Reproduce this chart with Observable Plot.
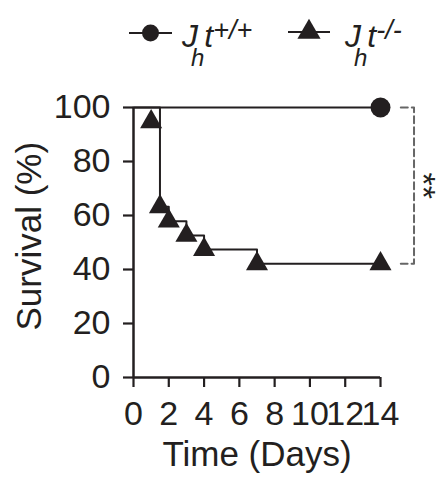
<!DOCTYPE html>
<html><head><meta charset="utf-8">
<script src="https://cdn.jsdelivr.net/npm/d3@7"></script>
<script src="https://cdn.jsdelivr.net/npm/@observablehq/plot@0.6"></script>
<style>
html,body{margin:0;padding:0;background:#fff;}
#wrap{position:relative;width:443px;height:479px;overflow:hidden;font-family:"Liberation Sans",Arial,sans-serif;color:#231f20;}
#legend{position:absolute;left:0;top:0;width:443px;height:70px;}
#legend svg{position:absolute;left:0;top:0;}
.lab{position:absolute;top:20px;font-style:italic;font-size:32px;line-height:1;white-space:nowrap;}
.lab .sb{font-size:24px;position:relative;top:19px;vertical-align:baseline;margin-left:-7px;}
.lab .sp{font-size:27px;position:relative;top:-8px;vertical-align:baseline;}
#chart{position:absolute;left:0;top:70px;}
</style>
</head><body>
<div id="wrap"><div id="legend"></div><div id="chart"></div></div>
<script>
// ---- data ----
const seriesNames = ["+/+", "-/-"];
const wtDays = [0, 14];
const wtSurv = [100, 100];
const wtSymDays = [14];
const wtSymSurv = [100];
const koDays = [0, 1.5, 2, 3, 4, 7, 14];
const koSurv = [100, 63.2, 57.9, 52.6, 47.4, 42.1, 42.1];
const koSymDays = [1, 1.5, 2, 3, 4, 7, 14];
const koSymSurv = [94.7, 63.2, 57.9, 52.6, 47.4, 42.1, 42.1];
const xTicks = [0, 2, 4, 6, 8, 10, 12, 14];
const yTicks = [0, 20, 40, 60, 80, 100];
const xLabel = "Time (Days)";
const yLabel = "Survival (%)";
const sigLabel = "**";

const ink = "#231f20";
const wt = wtDays.map((d, i) => ({x: d, y: wtSurv[i]}));
const wtSym = wtSymDays.map((d, i) => ({x: d, y: wtSymSurv[i]}));
const ko = koDays.map((d, i) => ({x: d, y: koSurv[i]}));
const koSym = koSymDays.map((d, i) => ({x: d, y: koSymSurv[i]}));

const xMax = d3.max(xTicks);
const topVal = wtSurv[wtSurv.length - 1];
const botVal = koSurv[koSurv.length - 1];
const bracket = [
  {x: xMax + 1.15, y: topVal}, {x: xMax + 1.9, y: topVal},
  {x: xMax + 1.9, y: botVal}, {x: xMax + 1.15, y: botVal}
];

const chart = Plot.plot({
  width: 443, height: 409,
  marginTop: 37, marginBottom: 102, marginLeft: 133, marginRight: 63,
  x: {domain: [0, xMax]},
  y: {domain: [0, 100]},
  style: {fontFamily: "'Liberation Sans', Arial, sans-serif", fontSize: "34px", color: ink, background: "white", overflow: "visible"},
  marks: [
    Plot.axisY({ticks: yTicks, tickSize: 10, tickPadding: 13, strokeWidth: 2.2, label: null, fontSize: 34}),
    Plot.axisX({ticks: xTicks, tickSize: 10, tickPadding: 13, strokeWidth: 2.2, label: null, fontSize: 34}),
    Plot.ruleX([0], {stroke: ink, strokeWidth: 2.5}),
    Plot.ruleY([0], {stroke: ink, strokeWidth: 2.5}),
    Plot.line(wt, {x: "x", y: "y", curve: "step-after", stroke: ink, strokeWidth: 2}),
    Plot.line(ko, {x: "x", y: "y", curve: "step-after", stroke: ink, strokeWidth: 2}),
    Plot.dot(wtSym, {x: "x", y: "y", symbol: "circle", r: 10, fill: ink, stroke: "none"}),
    Plot.dot(koSym, {x: "x", y: "y", symbol: "triangle", r: 8.2, fill: ink, stroke: "none"}),
    Plot.line(bracket, {x: "x", y: "y", stroke: "#666", strokeWidth: 2, strokeDasharray: "7,4", clip: false}),
    Plot.text([sigLabel], {x: xMax + 2.4, y: (topVal + botVal) / 2, text: d => d, rotate: 90, fontSize: 34, fill: ink}),
    Plot.text([yLabel], {frameAnchor: "left", text: d => d, rotate: -90, dx: -104, dy: 88, fontSize: 35, fill: ink}),
    Plot.text([xLabel], {frameAnchor: "bottom", text: d => d, dy: 88, fontSize: 35, fill: ink})
  ]
});
document.getElementById("chart").appendChild(chart);

// ---- legend ----
const leg = d3.select("#legend");
const lsvg = leg.append("svg").attr("width", 443).attr("height", 70);
const items = [
  {name: seriesNames[0], sym: d3.symbolCircle, r: 8.5, x0: 129, x1: 172, cy: 33, tx: 182},
  {name: seriesNames[1], sym: d3.symbolTriangle, r: 8.6, x0: 288, x1: 330, cy: 32, tx: 345}
];
items.forEach(it => {
  lsvg.append("line").attr("x1", it.x0).attr("x2", it.x1).attr("y1", it.cy).attr("y2", it.cy)
    .attr("stroke", ink).attr("stroke-width", 2);
  lsvg.append("path").attr("d", d3.symbol(it.sym, it.r * it.r * Math.PI)())
    .attr("transform", `translate(${(it.x0 + it.x1) / 2},${it.cy})`).attr("fill", ink);
  const lab = leg.append("div").attr("class", "lab").style("left", it.tx + "px");
  lab.append("span").text("J");
  lab.append("span").attr("class", "sb").text("h");
  lab.append("span").text("t");
  lab.append("span").attr("class", "sp").text(it.name);
});
</script>
</body></html>
